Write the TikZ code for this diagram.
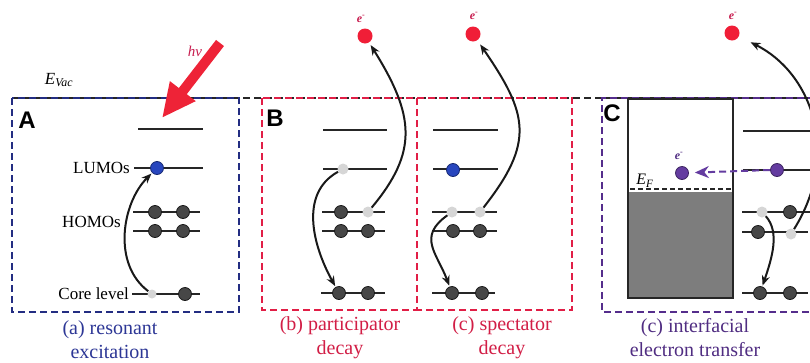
\documentclass[tikz,border=0pt]{standalone}
\usepackage{fontspec}
\setmainfont{Liberation Serif}
\newfontfamily\panelfont{Liberation Sans}
\usetikzlibrary{arrows.meta}

\definecolor{navy}{RGB}{35,45,130}
\definecolor{capblue}{RGB}{45,55,150}
\definecolor{boxred}{RGB}{225,30,70}
\definecolor{capred}{RGB}{210,30,70}
\definecolor{boxpurple}{RGB}{85,45,140}
\definecolor{cappurple}{RGB}{80,45,130}
\definecolor{dotblue}{RGB}{40,70,190}
\definecolor{dotpurple}{RGB}{100,60,160}
\definecolor{ered}{RGB}{240,30,55}
\definecolor{elab}{RGB}{200,30,80}
\definecolor{beamred}{RGB}{238,35,55}
\definecolor{metal}{RGB}{125,125,125}

\tikzset{
  lvl/.style={line width=1.7pt, black!85},
  occ/.style={circle, inner sep=0pt, minimum size=13pt, fill=black!72, draw=black!90, line width=0.8pt},
  hole/.style={circle, inner sep=0pt, minimum size=11pt, fill=black!16},
  bluee/.style={circle, inner sep=0pt, minimum size=13pt, fill=dotblue, draw=dotblue!60!black, line width=0.8pt},
  purplee/.style={circle, inner sep=0pt, minimum size=13pt, fill=dotpurple, draw=dotpurple!60!black, line width=0.8pt},
  freee/.style={circle, inner sep=0pt, minimum size=15pt, fill=ered},
  jump/.style={line width=2pt, black!90, -{Stealth[length=10pt,width=8pt]}, shorten >=3pt},
  elabel/.style={font=\fontsize{12}{12}\selectfont\bfseries, text=elab, inner sep=0pt},
  panelbox/.style={line width=2.2pt, dash pattern=on 7pt off 4pt},
  caption/.style={font=\fontsize{20}{24}\selectfont, align=center, inner sep=0pt},
  levtext/.style={font=\fontsize{17}{17}\selectfont, anchor=east, inner sep=0pt},
  tag/.style={font=\panelfont\bfseries\fontsize{24}{24}\selectfont, inner sep=0pt}
}

\begin{document}
\begin{tikzpicture}[x=1pt,y=-1pt]
\useasboundingbox (0,0) rectangle (810,362);
\fill[white] (0,0) rectangle (810,362);

% vacuum level
\draw[black!85, line width=2.2pt, dash pattern=on 7pt off 4pt] (12,98) -- (815,98);
\node[font=\fontsize{17}{17}\selectfont, inner sep=0pt] (evac) at (59,80) {\textit{E}\textsubscript{\textit{Vac}}};

% panel frames
\draw[panelbox, navy] (12,98) rectangle (239,312);
\draw[panelbox, boxred] (262,98) rectangle (417,310);
\draw[panelbox, boxred] (417,98) -- (572,98) -- (572,310) -- (417,310);
\draw[panelbox, boxpurple] (815,98) -- (602,98) -- (602,312) -- (815,312);

\node[tag] (tA) at (27,120) {A};
\node[tag] (tB) at (275,118) {B};
\node[tag] (tC) at (612,113) {C};

% ---------- (a) resonant excitation ----------
\draw[lvl] (138,129) -- (203,129);
\draw[lvl] (134,168) -- (203,168);
\draw[lvl] (133,212) -- (200,212);
\draw[lvl] (133,231) -- (200,231);
\draw[lvl] (132,294) -- (200,294);
\node[levtext] (lumotxt) at (130,168) {LUMOs};
\node[levtext] (homotxt) at (121,222) {HOMOs};
\node[levtext] (coretxt) at (129,294) {Core level};
\node[bluee] (a-lumo) at (157,168) {};
\node[occ] (a-h1a) at (155,212) {};
\node[occ] (a-h1b) at (183,212) {};
\node[occ] (a-h2a) at (155,231) {};
\node[occ] (a-h2b) at (183,231) {};
\node[hole, minimum size=9pt] (a-c1) at (152,294) {};
\node[occ] (a-c2) at (185,294) {};
\draw[jump, shorten >=1pt] (a-c1) .. controls +(-40,-30) and +(-35,35) .. (a-lumo);

% incoming photon
\coordinate (hvtail) at (220,43);
\coordinate (hvtip) at (162,118);
\draw[beamred, line width=10pt, -{Triangle[length=34pt,width=30pt]}] (hvtail) -- (hvtip);
\node[font=\fontsize{15}{15}\selectfont, text=elab, inner sep=0pt] (hv) at (195,51) {\textit{hν}};

\node[caption, text=capblue] (capa) at (110,340) {(a) resonant\\excitation};

% ---------- (b) participator decay ----------
\draw[lvl] (323,130) -- (387,130);
\draw[lvl] (323,169) -- (387,169);
\draw[lvl] (322,212) -- (385,212);
\draw[lvl] (322,231) -- (385,231);
\draw[lvl] (321,293) -- (385,293);
\node[hole] (b-lumo) at (343,169) {};
\node[occ] (b-h1a) at (341,212) {};
\node[hole] (b-h1b) at (368,212) {};
\node[occ] (b-h2a) at (341,231) {};
\node[occ] (b-h2b) at (368,231) {};
\node[occ] (b-c1) at (339,293) {};
\node[occ] (b-c2) at (368,293) {};
\node[freee] (b-e) at (365,36) {};
\node[elabel] (b-el) at (361,19) {\textit{e}\textsuperscript{-}};
\draw[jump, shorten >=1pt] (b-lumo) .. controls +(-45,25) and +(-25,-45) .. (b-c1);
\draw[jump] (b-h1b) .. controls +(50,-60) and +(50,80) .. (b-e);

\node[caption, text=capred] (capb) at (340,338) {(b) participator\\decay};

% ---------- (c) spectator decay ----------
\draw[lvl] (433,130) -- (498,130);
\draw[lvl] (433,169) -- (498,169);
\draw[lvl] (432,212) -- (497,212);
\draw[lvl] (432,231) -- (497,231);
\draw[lvl] (432,293) -- (495,293);
\node[bluee] (c-lumo) at (453,170) {};
\node[hole] (c-h1a) at (452,212) {};
\node[hole] (c-h1b) at (480,212) {};
\node[occ] (c-h2a) at (453,231) {};
\node[occ] (c-h2b) at (480,231) {};
\node[occ] (c-c1) at (452,293) {};
\node[occ] (c-c2) at (482,293) {};
\node[freee] (c-e) at (473,34) {};
\node[elabel] (c-el) at (474,16) {\textit{e}\textsuperscript{-}};
\draw[jump, shorten >=1pt] (c-h1a) .. controls +(-35,25) and +(-15,-40) .. (c-c1);
\draw[jump, shorten >=5pt] (c-h1b) .. controls +(55,-70) and +(55,80) .. (c-e);

\node[caption, text=capred] (capc) at (502,338) {(c) spectator\\decay};

% ---------- (C) interfacial electron transfer ----------
\fill[metal] (628,192) rectangle (733,298);
\draw[line width=1.7pt, black!85] (628,99) rectangle (733,298);
\draw[line width=1.8pt, black!85, dash pattern=on 5pt off 3pt] (630,189) -- (731,189);
\node[font=\fontsize{16}{16}\selectfont, inner sep=0pt] (ef) at (645,181) {\textit{E}\textsubscript{\textit{F}}};

\draw[lvl] (743,131) -- (810,131);
\draw[lvl] (743,170) -- (810,170);
\draw[lvl] (742,212) -- (810,212);
\draw[lvl] (742,232) -- (808,232);
\draw[lvl] (742,293) -- (808,293);
\node[purplee] (m-e) at (682,173) {};
\node[elabel, text=cappurple] (m-el) at (679,156) {\textit{e}\textsuperscript{-}};
\node[purplee] (d-lumo) at (777,170) {};
\node[hole] (d-h1a) at (762,212) {};
\node[occ] (d-h1b) at (790,212) {};
\node[occ] (d-h2a) at (758,232) {};
\node[hole] (d-h2b) at (791,234) {};
\node[occ] (d-c1) at (760,293) {};
\node[occ] (d-c2) at (790,293) {};
\node[freee] (d-e) at (732,33) {};
\node[elabel] (d-el) at (733,16) {\textit{e}\textsuperscript{-}};
\draw[dotpurple, line width=2pt, dash pattern=on 7pt off 4pt, -{Stealth[length=14pt,width=12pt]}, shorten >=6pt] (d-lumo.west) -- (m-e);
\draw[jump, shorten >=1pt] (d-h1a) .. controls +(18,20) and +(12,-35) .. (d-c1);
\draw[jump, shorten >=13pt] (d-h2b) .. controls +(50,-80) and +(80,40) .. (d-e);

\node[caption, text=cappurple] (capC) at (695,338) {(c) interfacial\\electron transfer};
\end{tikzpicture}
\end{document}
